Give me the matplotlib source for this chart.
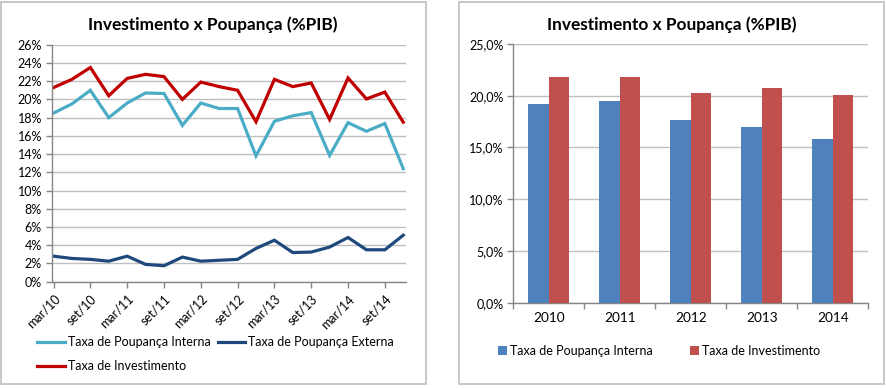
import matplotlib
matplotlib.use("Agg")
import matplotlib.pyplot as plt
from matplotlib.patches import Rectangle, Patch
from matplotlib.lines import Line2D
from matplotlib.ticker import FuncFormatter

plt.rcParams['font.family'] = ['Lato', 'DejaVu Sans']

# ---------------- data ----------------
quarters = ["mar/10", "jun/10", "set/10", "dez/10",
            "mar/11", "jun/11", "set/11", "dez/11",
            "mar/12", "jun/12", "set/12", "dez/12",
            "mar/13", "jun/13", "set/13", "dez/13",
            "mar/14", "jun/14", "set/14", "dez/14"]
poup_interna = [18.5, 19.5, 21.0, 18.0, 19.6, 20.7, 20.65, 17.15, 19.6, 19.0,
                19.0, 13.8, 17.6, 18.2, 18.55, 13.85, 17.45, 16.5, 17.35, 12.4]
poup_externa = [2.8, 2.55, 2.45, 2.25, 2.8, 1.9, 1.75, 2.7, 2.25, 2.35,
                2.45, 3.65, 4.55, 3.2, 3.25, 3.8, 4.85, 3.5, 3.5, 5.1]
investimento = [21.3, 22.2, 23.5, 20.4, 22.3, 22.75, 22.5, 20.0, 21.9, 21.4,
                21.0, 17.55, 22.2, 21.4, 21.8, 17.8, 22.35, 20.05, 20.8, 17.5]

years = ["2010", "2011", "2012", "2013", "2014"]
anual_interna = [19.2, 19.45, 17.7, 16.95, 15.8]
anual_invest = [21.8, 21.8, 20.3, 20.7, 20.05]

title = "Investimento x Poupança (%PIB)"
lbl_int = "Taxa de Poupança Interna"
lbl_ext = "Taxa de Poupança Externa"
lbl_inv = "Taxa de Investimento"

# ---------------- style ----------------
W, H = 886, 388
C_CYAN = "#4BACC6"
C_NAVY = "#1F497D"
C_RED = "#C00000"
C_BAR_BLUE = "#4F81BD"
C_BAR_RED = "#C0504D"
C_GRID = "#BFBFBF"
C_AXIS = "#868686"
C_FRAME = "#BFBFBF"
TXT = "#000000"
FS_TICK = 9.0
FS_TITLE = 12.4

fig = plt.figure(figsize=(W / 100, H / 100), dpi=100)
fig.patch.set_facecolor("white")


def rect(x0, y0, x1, y1):
    return [x0 / W, 1 - y1 / H, (x1 - x0) / W, (y1 - y0) / H]


# panel frames
fig.patches.append(Rectangle((0.5 / W, 1 - 384.3 / H), 425.2 / W, 382.6 / H,
                             transform=fig.transFigure, fill=False,
                             edgecolor=C_FRAME, lw=1.2))
fig.patches.append(Rectangle((459 / W, 1 - 384.3 / H), 425.3 / W, 382.6 / H,
                             transform=fig.transFigure, fill=False,
                             edgecolor=C_FRAME, lw=1.2))

# ---------------- left: line chart ----------------
ax1 = fig.add_axes(rect(51.7, 44.7, 406, 281.7))
x = list(range(len(quarters)))
ax1.plot(x, poup_interna, color=C_CYAN, lw=2.3, solid_joinstyle="miter")
ax1.plot(x, poup_externa, color=C_NAVY, lw=2.3, solid_joinstyle="miter")
ax1.plot(x, investimento, color=C_RED, lw=2.3, solid_joinstyle="miter")
ax1.set_xlim(-0.1, 19.15)
ax1.set_ylim(0, 26)
ax1.set_yticks(range(0, 27, 2))
ax1.yaxis.set_major_formatter(FuncFormatter(lambda v, p: f"{int(round(v))}%"))
ax1.grid(axis="y", color=C_GRID, lw=1.0)
ax1.set_axisbelow(True)
ax1.set_xticks(x[::2])
ax1.set_xticklabels(quarters[::2], rotation=45, ha="right", va="top",
                    rotation_mode="anchor")
for s in ["top", "right"]:
    ax1.spines[s].set_visible(False)
for s in ["left", "bottom"]:
    ax1.spines[s].set_color(C_AXIS)
    ax1.spines[s].set_linewidth(1.0)
ax1.tick_params(axis="both", colors=C_AXIS, labelcolor=TXT, labelsize=FS_TICK,
                length=4, width=1.0)
ax1.tick_params(axis="y", pad=3)
ax1.tick_params(axis="x", pad=4)
fig.text(213 / W, 1 - 25 / H, title, ha="center", va="center",
         fontsize=FS_TITLE, fontweight="bold", color=TXT)

handles1 = [Line2D([], [], color=C_CYAN, lw=2.3),
            Line2D([], [], color=C_RED, lw=2.3),
            Line2D([], [], color=C_NAVY, lw=2.3)]
fig.legend(handles1, [lbl_int, lbl_inv, lbl_ext], ncol=2, frameon=False,
           loc="center left", bbox_to_anchor=(37 / W, 1 - 354 / H),
           bbox_transform=fig.transFigure, fontsize=FS_TICK,
           handlelength=2.2, handletextpad=0.25, columnspacing=0.6,
           labelspacing=0.95, borderpad=0, borderaxespad=0)

# ---------------- right: bar chart ----------------
ax2 = fig.add_axes(rect(513.3, 44, 868.3, 302.7))
xb = list(range(len(years)))
bw = 0.286
ax2.bar([i - bw / 2 for i in xb], anual_interna, width=bw, color=C_BAR_BLUE,
        zorder=3)
ax2.bar([i + bw / 2 for i in xb], anual_invest, width=bw, color=C_BAR_RED,
        zorder=3)
ax2.set_xlim(-0.5, 4.5)
ax2.set_ylim(0, 25)
ax2.set_yticks([0, 5, 10, 15, 20, 25])
ax2.yaxis.set_major_formatter(
    FuncFormatter(lambda v, p: f"{v:.1f}".replace(".", ",") + "%"))
ax2.grid(axis="y", color=C_GRID, lw=1.0)
ax2.set_axisbelow(True)
ax2.set_xticks(xb)
ax2.set_xticklabels(years)
ax2.set_xticks([i - 0.5 for i in range(len(years) + 1)], minor=True)
ax2.tick_params(axis="x", which="major", length=0, pad=7)
ax2.tick_params(axis="x", which="minor", length=4, width=1.0, colors=C_AXIS)
for s in ["top", "right"]:
    ax2.spines[s].set_visible(False)
for s in ["left", "bottom"]:
    ax2.spines[s].set_color(C_AXIS)
    ax2.spines[s].set_linewidth(1.0)
ax2.tick_params(axis="both", labelcolor=TXT, labelsize=FS_TICK)
ax2.tick_params(axis="x", which="major", labelsize=FS_TICK + 0.8)
ax2.tick_params(axis="y", colors=C_AXIS, labelcolor=TXT, length=4, width=1.0,
                pad=3)
fig.text(671.7 / W, 1 - 25 / H, title, ha="center", va="center",
         fontsize=FS_TITLE, fontweight="bold", color=TXT)

handles2 = [Patch(facecolor=C_BAR_BLUE), Patch(facecolor=C_BAR_RED)]
fig.legend(handles2, [lbl_int, lbl_inv], ncol=2, frameon=False,
           loc="center left", bbox_to_anchor=(498 / W, 1 - 351 / H),
           bbox_transform=fig.transFigure, fontsize=FS_TICK,
           handlelength=0.7, handleheight=0.7, handletextpad=0.25,
           columnspacing=3.0, borderpad=0, borderaxespad=0)

fig.savefig("out.png", dpi=100, facecolor="white")
